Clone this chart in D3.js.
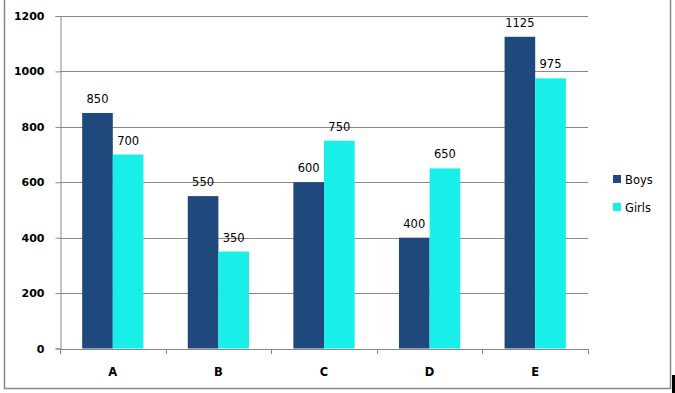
<!DOCTYPE html>
<html>
<head>
<meta charset="utf-8">
<script src="https://cdn.jsdelivr.net/npm/d3@7"></script>
<style>
  body { margin: 0; background: #fff; }
  svg { display: block; font-family: "DejaVu Sans", Verdana, sans-serif; }
</style>
</head>
<body>
<div id="main"></div>
<script>
var categories = ["A", "B", "C", "D", "E"];
var seriesNames = ["Boys", "Girls"];
var boys = [850, 550, 600, 400, 1125];
var girls = [700, 350, 750, 650, 975];
var yTicks = [0, 200, 400, 600, 800, 1000, 1200];
var colors = ["#1f497d", "#17efe8"];

var w = 675, h = 393;
var margin = { top: 16, left: 60, right: 87, bottom: 44 };

var svg = d3.select("#main")
	.append("svg")
	.attr("width", w)
	.attr("height", h);

// outer frame (no top edge visible)
svg.append("path")
	.attr("d", "M4.5,0 V388.5 H670.5 V0")
	.attr("fill", "none")
	.attr("stroke", "#888")
	.attr("stroke-width", 1.5);

// little black mark bottom right
svg.append("rect")
	.attr("x", 672).attr("y", 375)
	.attr("width", 3).attr("height", 18)
	.attr("fill", "#000");

var x = d3.scaleBand()
	.domain(categories)
	.range([margin.left, w - margin.right]);

var x1 = d3.scaleBand()
	.domain(seriesNames)
	.range([0, x.bandwidth() * 0.58]);

var y = d3.scaleLinear()
	.domain([0, 1200])
	.range([h - margin.bottom - 0.5, margin.top]);

// gridlines
svg.append("g")
	.selectAll("line")
	.data(yTicks.slice(1))
	.enter()
	.append("line")
	.attr("x1", margin.left)
	.attr("x2", w - margin.right)
	.attr("y1", function(d) { return Math.round(y(d)) + 0.5; })
	.attr("y2", function(d) { return Math.round(y(d)) + 0.5; })
	.attr("stroke", "#888");

var data = categories.map(function(c, i) {
	return { cat: c, values: [boys[i], girls[i]] };
});

var groups = svg.append("g")
	.selectAll("g")
	.data(data)
	.enter()
	.append("g")
	.attr("transform", function(d) {
		return "translate(" + (x(d.cat) + x.bandwidth() * 0.21) + ",0)";
	});

groups.selectAll("rect")
	.data(function(d) { return d.values; })
	.enter()
	.append("rect")
	.attr("x", function(d, i) { return x1(seriesNames[i]); })
	.attr("width", x1.bandwidth())
	.attr("y", function(d) { return y(d); })
	.attr("height", function(d) { return y(0) - y(d); })
	.attr("fill", function(d, i) { return colors[i]; });

groups.selectAll("text")
	.data(function(d) { return d.values; })
	.enter()
	.append("text")
	.attr("x", function(d, i) { return x1(seriesNames[i]) + x1.bandwidth() / 2; })
	.attr("y", function(d) { return y(d) - 10; })
	.attr("text-anchor", "middle")
	.attr("font-size", "11.5px")
	.attr("fill", "#000")
	.text(function(d) { return d; });

// y axis
var yAxis = d3.axisLeft(y)
	.tickValues(yTicks)
	.tickFormat(d3.format("d"))
	.tickSize(5)
	.tickPadding(11);

var gy = svg.append("g")
	.attr("transform", "translate(" + (margin.left + 0.5) + ",0)")
	.call(yAxis);

gy.select(".domain").attr("stroke", "#888");
gy.selectAll(".tick line").attr("stroke", "#888");
gy.selectAll(".tick text")
	.attr("font-size", "11px")
	.attr("font-weight", "bold")
	.attr("font-family", "DejaVu Sans, Verdana, sans-serif")
	.attr("fill", "#000");

// x axis
var xAxis = d3.axisBottom(x)
	.tickSize(0)
	.tickPadding(19);

var gx = svg.append("g")
	.attr("transform", "translate(0," + (y(0) + 0.5) + ")")
	.call(xAxis);

gx.select(".domain").attr("stroke", "#888");
gx.selectAll(".tick text")
	.attr("font-size", "11.5px")
	.attr("font-weight", "bold")
	.attr("font-family", "DejaVu Sans, Verdana, sans-serif")
	.attr("fill", "#000");

// category separators
gx.append("g")
	.selectAll("line")
	.data(categories.concat(["end"]))
	.enter()
	.append("line")
	.attr("x1", function(d, i) { return Math.round(margin.left + i * x.bandwidth()) + 0.5; })
	.attr("x2", function(d, i) { return Math.round(margin.left + i * x.bandwidth()) + 0.5; })
	.attr("y1", 0)
	.attr("y2", 5)
	.attr("stroke", "#888");

// legend
var legend = svg.append("g")
	.attr("transform", "translate(613,175)")
	.selectAll("g")
	.data(seriesNames)
	.enter()
	.append("g")
	.attr("transform", function(d, i) { return "translate(0," + (i * 28) + ")"; });

legend.append("rect")
	.attr("width", 8)
	.attr("height", 8)
	.attr("fill", function(d, i) { return colors[i]; });

legend.append("text")
	.attr("x", 12)
	.attr("y", 8.5)
	.attr("font-size", "11.5px")
	.attr("fill", "#000")
	.text(function(d) { return d; });
</script>
</body>
</html>
